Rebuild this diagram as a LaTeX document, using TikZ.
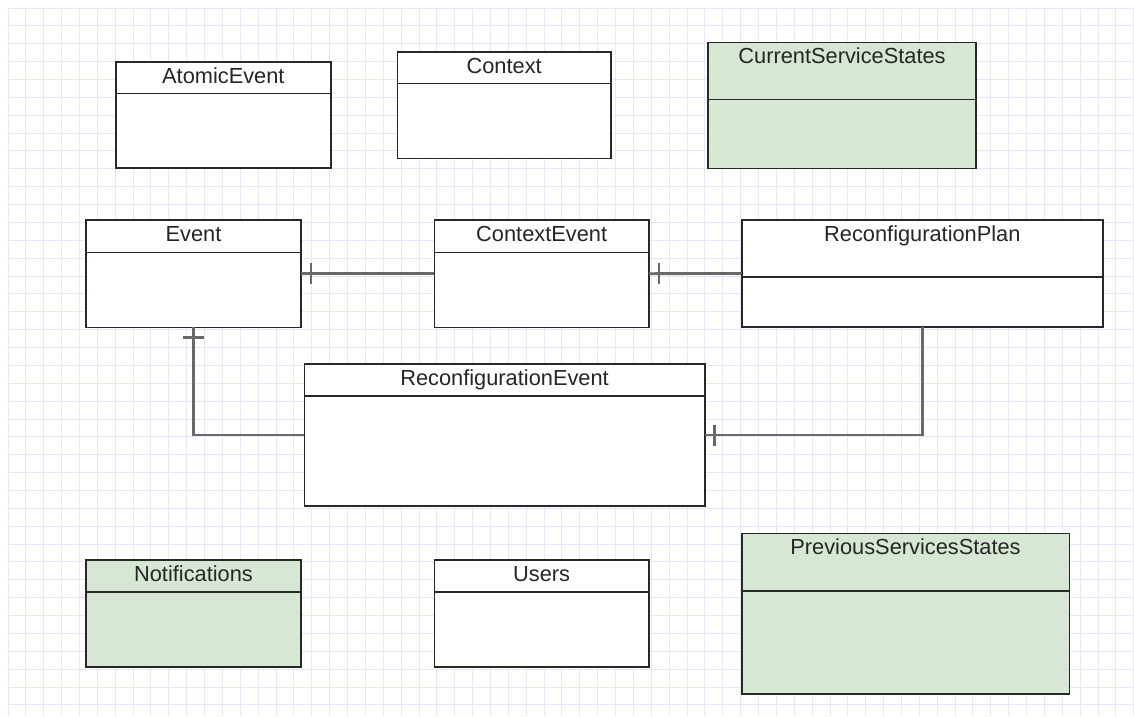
\documentclass[tikz,border=0pt]{standalone}
\usepackage{fontspec}
\setmainfont{Liberation Sans}
\usetikzlibrary{calc}

\definecolor{gridblue}{RGB}{230,230,252}
\definecolor{classgreen}{RGB}{214,232,211}
\definecolor{borderdark}{RGB}{40,40,40}
\definecolor{conngray}{RGB}{105,105,105}

\tikzset{
  gridline/.style={draw=gridblue, line width=1pt},
  classbox/.style={draw=borderdark, line width=1.6pt, rectangle, inner sep=0pt, outer sep=0pt, anchor=north west},
  classline/.style={draw=borderdark, line width=1.6pt},
  classtitle/.style={anchor=base, inner sep=0pt, text=black!85,
    font=\fontsize{21.8}{26}\selectfont},
  conn/.style={draw=conngray, line width=2.8pt},
}

% \umlclass{name}{x}{y}{width}{height}{header height}{title}{fill}
\newcommand{\umlclass}[8]{%
  \node[classbox, fill=#8, minimum width=#4pt, minimum height=#5pt] (#1) at (#2,#3) {};
  \draw[classline] ([yshift=-#6pt]#1.north west) -- ([yshift=-#6pt]#1.north east);
  \node[classtitle] (#1-title) at ([yshift=-21.5pt]#1.north) {#7};
}

\begin{document}
\begin{tikzpicture}[x=1pt, y=-1pt]
  \useasboundingbox (0,0) rectangle (1134,716);
  \fill[white] (0,0) rectangle (1134,716);

  % squared paper
  \foreach \i in {0,...,63}
    \draw[gridline] ({8+\i*17.87},8) -- ({8+\i*17.87},716);
  \foreach \j in {0,...,39}
    \draw[gridline] (8,{8+\j*17.87}) -- (1134,{8+\j*17.87});

  % classes
  \umlclass{atomic}{116}{61.7}{214.7}{106.3}{31.6}{AtomicEvent}{white}
  \umlclass{context}{397.3}{51.7}{213.7}{106.6}{31.6}{Context}{white}
  \umlclass{current}{708}{42.3}{268}{126}{57}{CurrentServiceStates}{classgreen}

  \umlclass{event}{86}{220}{215}{107.3}{32.5}{Event}{white}
  \umlclass{ctxev}{434.3}{220}{214.7}{107.3}{32.5}{ContextEvent}{white}
  \umlclass{plan}{741.7}{220}{361.3}{107}{57}{ReconfigurationPlan}{white}

  \umlclass{recev}{304.3}{364}{400.5}{142}{32}{ReconfigurationEvent}{white}

  \umlclass{notif}{86}{560}{215}{107}{32}{Notifications}{classgreen}
  \umlclass{users}{434.3}{560}{214.7}{107}{32}{Users}{white}
  \umlclass{previous}{741.7}{533.3}{327.6}{160.7}{57.4}{PreviousServicesStates}{classgreen}

  % associations
  \draw[conn] (event.east) -- (ctxev.west);
  \draw[conn] (ctxev.east) -- (plan.west);
  \draw[conn] (event.south) |- (recev.west);
  \draw[conn] (plan.south) |- (recev.east);

  % one-multiplicity bars
  \draw[conn] ([xshift=10pt]event.east) ++(0,-10.5) -- ++(0,21);
  \draw[conn] ([xshift=10pt]ctxev.east) ++(0,-10.5) -- ++(0,21);
  \draw[conn] ([yshift=-10pt]event.south) ++(-10.5,0) -- ++(21,0);
  \draw[conn] ([xshift=10pt]recev.east) ++(0,-10.5) -- ++(0,21);
\end{tikzpicture}
\end{document}
